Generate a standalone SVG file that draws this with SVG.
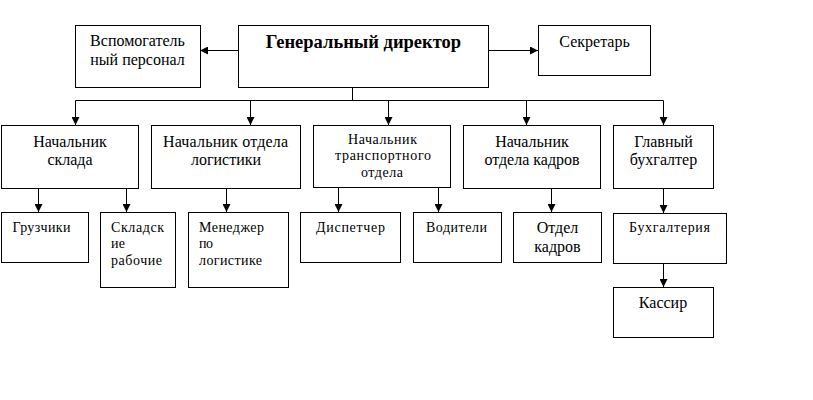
<svg xmlns="http://www.w3.org/2000/svg" width="813" height="400" viewBox="0 0 813 400">
<defs>
<marker id="arr" markerWidth="8" markerHeight="8" refX="8" refY="4" orient="auto" markerUnits="userSpaceOnUse">
<path d="M0,0 L8,4 L0,8 Z" fill="#000"/>
</marker>
<style>
rect{fill:#fff;stroke:#000;stroke-width:1}
.t16{font-size:16px}
.t14{font-size:14px}
.c{text-anchor:middle}
.b{font-weight:bold;font-size:18.5px}
#connectors line{stroke:#000;stroke-width:1;fill:none}
</style>
</defs>
<rect x="0" y="0" width="813" height="400" style="fill:#fff;stroke:none"/>
<g id="connectors">
<line x1="238" y1="50.5" x2="200" y2="50.5" marker-end="url(#arr)"/>
<line x1="488" y1="50.5" x2="538" y2="50.5" marker-end="url(#arr)"/>
<line x1="352.5" y1="87" x2="352.5" y2="100.5"/>
<line x1="75.5" y1="100.5" x2="663.5" y2="100.5"/>
<line x1="75.5" y1="100.5" x2="75.5" y2="125" marker-end="url(#arr)"/>
<line x1="250.5" y1="100.5" x2="250.5" y2="125" marker-end="url(#arr)"/>
<line x1="388.5" y1="100.5" x2="388.5" y2="125" marker-end="url(#arr)"/>
<line x1="526.5" y1="100.5" x2="526.5" y2="125" marker-end="url(#arr)"/>
<line x1="663.5" y1="100.5" x2="663.5" y2="125" marker-end="url(#arr)"/>
<line x1="38.5" y1="188" x2="38.5" y2="212" marker-end="url(#arr)"/>
<line x1="126.5" y1="188" x2="126.5" y2="212" marker-end="url(#arr)"/>
<line x1="226.5" y1="188" x2="226.5" y2="212" marker-end="url(#arr)"/>
<line x1="338.5" y1="187" x2="338.5" y2="212" marker-end="url(#arr)"/>
<line x1="438.5" y1="187" x2="438.5" y2="212" marker-end="url(#arr)"/>
<line x1="551.5" y1="188" x2="551.5" y2="212" marker-end="url(#arr)"/>
<line x1="663.5" y1="188" x2="663.5" y2="213" marker-end="url(#arr)"/>
<line x1="663.5" y1="263" x2="663.5" y2="287" marker-end="url(#arr)"/>
</g>
<g font-family="Liberation Serif, serif" fill="#000">
<g id="n-vspom"><rect x="75.5" y="25.5" width="125" height="62"/>
<text class="t16 c" x="137.5" y="46">Вспомогатель</text><text class="t16 c" x="137.5" y="65">ный персонал</text></g>
<g id="n-director"><rect x="238.5" y="25.5" width="250" height="62"/>
<text class="b c" x="363.5" y="48">Генеральный директор</text></g>
<g id="n-secretary"><rect x="538.5" y="25.5" width="112" height="50"/>
<text class="t16 c" x="594.5" y="47">Секретарь</text></g>
<g id="n-sklad"><rect x="1.5" y="125.5" width="137" height="63"/>
<text class="t16 c" x="70" y="147">Начальник</text><text class="t16 c" x="70" y="165">склада</text></g>
<g id="n-logist"><rect x="151.5" y="125.5" width="149" height="63"/>
<text class="t16 c" x="225.5" y="147" textLength="125">Начальник отдела</text><text class="t16 c" x="226" y="165">логистики</text></g>
<g id="n-transport"><rect x="313.5" y="125.5" width="137" height="62"/>
<text class="t14 c" x="382.5" y="144" textLength="69">Начальник</text><text class="t14 c" x="383" y="160" textLength="96">транспортного</text><text class="t14 c" x="382" y="177" textLength="42">отдела</text></g>
<g id="n-kadry"><rect x="463.5" y="125.5" width="137" height="63"/>
<text class="t16 c" x="532" y="147">Начальник</text><text class="t16 c" x="532" y="165">отдела кадров</text></g>
<g id="n-buh"><rect x="613.5" y="125.5" width="100" height="63"/>
<text class="t16 c" x="663.5" y="147">Главный</text><text class="t16 c" x="663.5" y="165">бухгалтер</text></g>
<g id="n-gruz"><rect x="1.5" y="212.5" width="87" height="50"/>
<text class="t14" x="12.5" y="232" textLength="58">Грузчики</text></g>
<g id="n-rab"><rect x="100.5" y="212.5" width="75" height="75"/>
<text class="t14" x="111" y="232" textLength="53">Складск</text><text class="t14" x="111" y="248" textLength="14">ие</text><text class="t14" x="111" y="265" textLength="51">рабочие</text></g>
<g id="n-manager"><rect x="188.5" y="212.5" width="100" height="75"/>
<text class="t14" x="199" y="232" textLength="65">Менеджер</text><text class="t14" x="199" y="248" textLength="14">по</text><text class="t14" x="199" y="265" textLength="63">логистике</text></g>
<g id="n-disp"><rect x="300.5" y="212.5" width="100" height="50"/>
<text class="t14" x="316" y="232" textLength="69">Диспетчер</text></g>
<g id="n-vod"><rect x="413.5" y="212.5" width="88" height="50"/>
<text class="t14" x="426" y="232" textLength="61">Водители</text></g>
<g id="n-otdel"><rect x="513.5" y="212.5" width="88" height="50"/>
<text class="t16 c" x="557.5" y="233">Отдел</text><text class="t16 c" x="557.5" y="252">кадров</text></g>
<g id="n-buhg"><rect x="613.5" y="213.5" width="113" height="50"/>
<text class="t14" x="629" y="232" textLength="81">Бухгалтерия</text></g>
<g id="n-kassir"><rect x="613.5" y="287.5" width="100" height="50"/>
<text class="t16 c" x="663" y="308">Кассир</text></g>
</g>
</svg>
